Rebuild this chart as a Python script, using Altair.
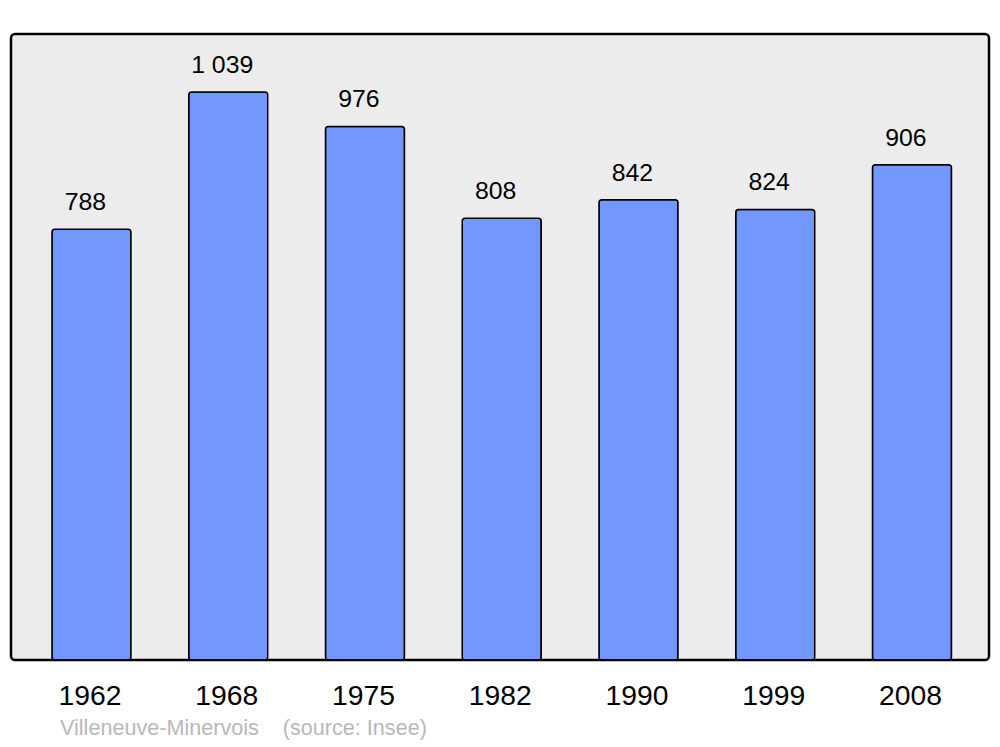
import altair as alt
import pandas as pd

years = ["1962", "1968", "1975", "1982", "1990", "1999", "2008"]
population = [788, 1039, 976, 808, 842, 824, 906]
labels = [f"{v:,}".replace(",", " ") for v in population]
footer = "Villeneuve-Minervois\u00a0\u00a0\u00a0\u00a0(source: Insee)"

df = pd.DataFrame({"year": years, "pop": population, "label": labels})

W, H = 978, 626

x = alt.X(
    "year:N",
    sort=years,
    title=None,
    scale=alt.Scale(paddingInner=0.4223, paddingOuter=0.287, align=0.522),
    axis=alt.Axis(
        labelAngle=0,
        labelFont="Liberation Sans",
        labelFontSize=28.3,
        labelColor="black",
        labelBaseline="alphabetic",
        labelPadding=44.5,
        labelOffset=-1.5,
        ticks=False,
        tickSize=0,
        domain=False,
        grid=False,
    ),
)
y = alt.Y("pop:Q", scale=alt.Scale(domain=[0, 1145], nice=False, zero=True), axis=None)

base = alt.Chart(df)

bars = base.mark_bar(
    fill="#7298ff", stroke="black", strokeWidth=1.5, cornerRadius=3
).encode(x=x, y=y)

text = base.mark_text(
    font="Liberation Sans", fontSize=24.8, color="black",
    baseline="alphabetic", dy=-19, dx=-6
).encode(x=x, y=y, text="label:N")

foot = alt.Chart(pd.DataFrame({"t": [footer]})).mark_text(
    font="Liberation Sans", fontSize=21.6, color="#b8b8b8",
    align="left", baseline="alphabetic"
).encode(x=alt.value(49), y=alt.value(H + 75), text="t:N")

chart = alt.layer(bars, text, foot).properties(
    width=W, height=H,
    autosize=alt.AutoSizeParams(type="none"),
    padding={"left": 3, "top": 26, "right": 3, "bottom": 80},
).configure_view(
    fill="#ececec", stroke="black", strokeWidth=2.5, cornerRadius=4
)

chart.save("out.html", embed_options={"renderer": "svg", "actions": False})
